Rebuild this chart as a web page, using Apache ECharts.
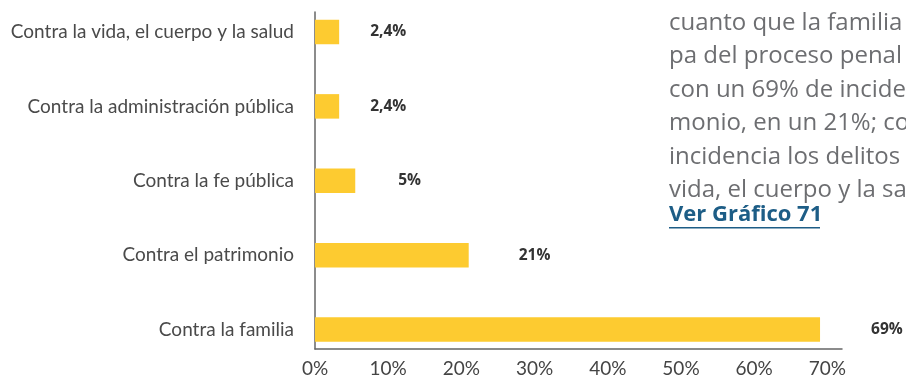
<!DOCTYPE html>
<html><head><meta charset="utf-8">
<script src="https://cdn.jsdelivr.net/npm/echarts@6/dist/echarts.min.js"></script>
<style>html,body{margin:0;padding:0;background:#fff}#c{width:906px;height:378px}</style>
</head><body><div id="c"></div>
<script>
const categories = ['Contra la vida, el cuerpo y la salud','Contra la administración pública','Contra la fe pública','Contra el patrimonio','Contra la familia'];
const barValues = [3.3, 3.3, 5.5, 21, 69];
const labelTexts = ['2,4%','2,4%','5%','21%','69%'];
const xTicks = [0,10,20,30,40,50,60,70];
const sideText = ['cuanto que la familia','pa del proceso penal s','con un 69% de incide','monio, en un 21%; con','incidencia los delitos c','vida, el cuerpo y la sa'];
const linkText = 'Ver Gráfico 71';

const labelGap = [31, 31, 43, 50, 51];
const chart = echarts.init(document.getElementById('c'), null, {renderer:'canvas'});
const catFont = 'Lato, "Open Sans", sans-serif';
const sideFont = '"Open Sans", Lato, sans-serif';
const graphics = sideText.map((t,i)=>({type:'text', left:669, top:11 + i*33.5, silent:true,
  style:{text:t, font:'24px '+sideFont, fill:'#6d6e71'}}));
graphics.push({type:'text', left:669, top:204, silent:true, style:{text:linkText, font:'bold 22px '+sideFont, fill:'#1d5d86'}});
graphics.push({type:'rect', left:669, top:227, silent:true, shape:{width:151,height:1.6}, style:{fill:'#1d5d86'}});

chart.setOption({
  animation:false,
  grid:[
    {left:315, top:32, width:527, height:297.5, containLabel:false},
    {left:315, top:12, width:527, height:337, containLabel:false}
  ],
  xAxis:[
    {gridIndex:0, type:'value', min:0, max:72, interval:10, show:false},
    {gridIndex:1, type:'value', min:0, max:72, interval:10,
     axisLine:{show:true, lineStyle:{color:'#666', width:1.5}}, axisTick:{show:false}, splitLine:{show:false},
     axisLabel:{showMaxLabel:false, margin:10, color:'#444', fontSize:19, fontFamily:catFont,
       formatter:v=> xTicks.includes(v) ? v+'%' : ''}}
  ],
  yAxis:[
    {gridIndex:0, type:'category', inverse:true, boundaryGap:false, data:categories,
     axisLine:{show:false}, axisTick:{show:false},
     axisLabel:{margin:21, color:'#4a4a4a', fontSize:19, fontFamily:catFont}},
    {gridIndex:1, type:'value', min:0, max:1,
     axisLine:{show:true, lineStyle:{color:'#666', width:1.5}}, axisTick:{show:false}, axisLabel:{show:false}, splitLine:{show:false}}
  ],
  series:[{
    type:'bar', xAxisIndex:0, yAxisIndex:0, barWidth:24.5,
    itemStyle:{color:'#FDCB30'},
    data: barValues.map((v,i)=>({value:v, label:{show:true, position:'right', distance:labelGap[i],
      formatter:labelTexts[i], color:'#333', fontWeight:'bold', fontSize:15.5, fontFamily:'"Open Sans", sans-serif'}}))
  }],
  graphic: graphics
});
</script></body></html>
